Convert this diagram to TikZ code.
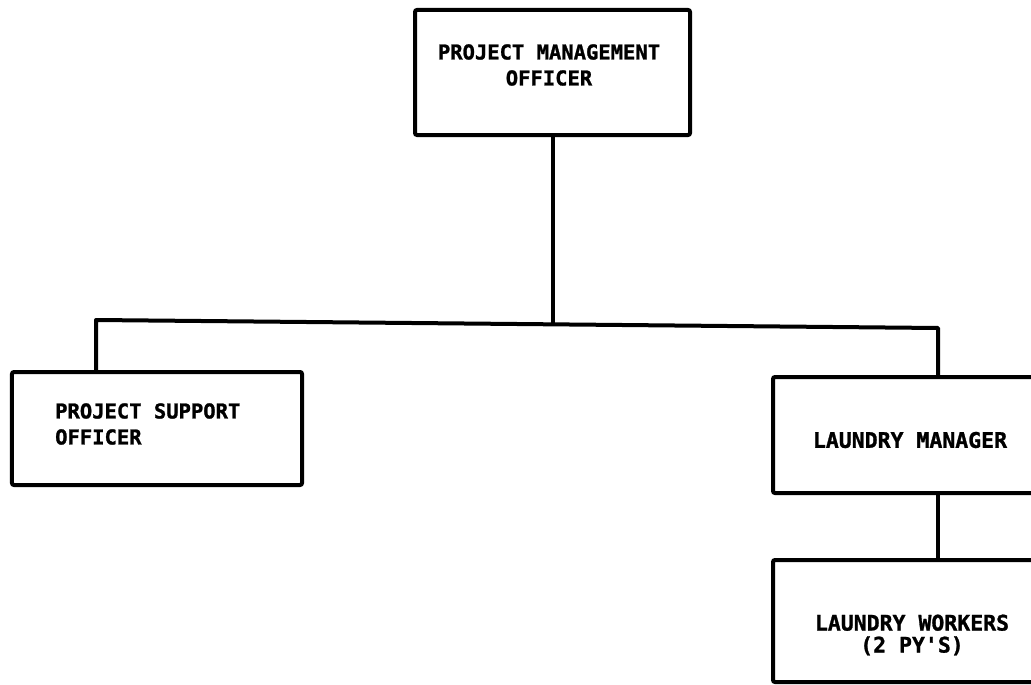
\documentclass[tikz,border=0pt]{standalone}
\usepackage{fontspec}
\setmonofont[BoldFeatures={FakeBold=1.2}]{DejaVu Sans Mono}
\begin{document}
\begin{tikzpicture}[x=1bp,y=-1bp,
  orgbox/.style={draw=black, line width=4bp, rounded corners=2bp, rectangle, inner sep=0pt},
  orgline/.style={draw=black, line width=4bp},
  orgtext/.style={inner sep=0pt, font=\ttfamily\bfseries\fontsize{20.5bp}{26bp}\selectfont},
  orgtextbig/.style={inner sep=0pt, font=\ttfamily\bfseries\fontsize{21.5bp}{22bp}\selectfont}
]
\useasboundingbox (0,0) rectangle (1031,685);

% boxes
\node[orgbox, minimum width=275bp, minimum height=125bp] (pmo) at (552.5,72.5) {};
\node[orgbox, minimum width=290bp, minimum height=113bp] (psa) at (157,428.5) {};
\node[orgbox, minimum width=274bp, minimum height=116bp] (lm) at (910,435) {};
\node[orgbox, minimum width=274bp, minimum height=122bp] (lw) at (910,621) {};

% labels
\node[orgtext, align=center] (pmot) at (549,65) {PROJECT MANAGEMENT\\OFFICER};
\node[orgtext, align=left, anchor=west] (psat) at (55,424) {PROJECT SUPPORT\\OFFICER};
\node[orgtextbig] (lmt) at (910,440) {LAUNDRY MANAGER};
\node[orgtextbig, align=center] (lwt) at (912,635) {LAUNDRY WORKERS\\(2 PY'S)};

% connectors
\coordinate (busL) at (96,320);
\coordinate (busR) at (938,328);
\draw[orgline] (pmo.south) -- (pmo.south |- 0,324.3);
\draw[orgline, line join=round] (busL |- psa.north) -- (busL) -- (busR) -- (busR |- lm.north);
\draw[orgline] (busR |- lm.south) -- (busR |- lw.north);
\end{tikzpicture}
\end{document}
